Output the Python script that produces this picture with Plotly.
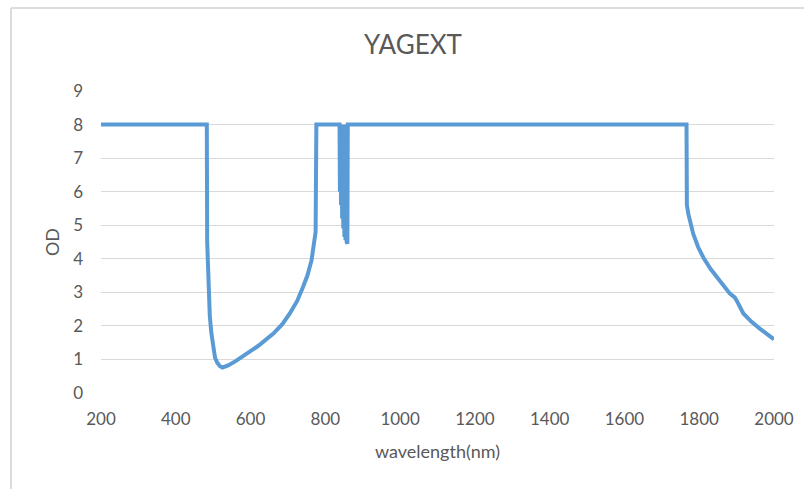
import plotly.graph_objects as go

wavelength = [200, 483, 484, 487, 491, 495, 500, 505, 511, 518, 525, 540, 560, 590, 620, 661,
              685, 705, 725, 740, 752, 763, 770, 774, 776,
              838, 839, 840, 842, 843, 845, 846, 848, 849, 851, 852, 854, 855, 857, 858, 859, 860,
              1766, 1767, 1771, 1784, 1797, 1811, 1830, 1847, 1865, 1882, 1895, 1900, 1918,
              1940, 1962, 1980, 2000]
od = [8, 8, 4.5, 3.4, 2.3, 1.8, 1.35, 1.05, 0.9, 0.8, 0.76, 0.82, 0.95, 1.18, 1.4, 1.77,
      2.05, 2.37, 2.75, 3.15, 3.5, 3.95, 4.4, 4.8, 8,
      8, 6.0, 8, 5.6, 8, 5.2, 8, 4.9, 8, 4.65, 8, 4.55, 8, 4.5, 8, 4.45, 8,
      8, 5.6, 5.33, 4.74, 4.35, 4.04, 3.7, 3.45, 3.2, 2.96, 2.85, 2.76, 2.37,
      2.12, 1.92, 1.76, 1.6]

x_ticks = [200, 400, 600, 800, 1000, 1200, 1400, 1600, 1800, 2000]
y_ticks = [0, 1, 2, 3, 4, 5, 6, 7, 8, 9]

FONT = "Lato"
GRAY = "#595959"

fig = go.Figure()
fig.add_trace(go.Scatter(x=wavelength, y=od, mode="lines",
                         line=dict(color="#5B9BD5", width=4), showlegend=False))

fig.update_layout(
    width=804, height=489,
    margin=dict(l=101, r=30, t=91, b=96, autoexpand=False),
    paper_bgcolor="white", plot_bgcolor="white",
    font=dict(family=FONT, color=GRAY, size=17),
    title=dict(text="YAGEXT", x=413 / 804, xref="container", xanchor="center",
               y=1 - 45 / 489, yref="container", yanchor="middle",
               font=dict(family=FONT, size=26, color=GRAY)),
    xaxis=dict(range=[200, 2000], tickvals=x_ticks, showgrid=False, zeroline=False,
               showline=False, ticks="", tickfont=dict(size=17, color=GRAY),
               ticklabelstandoff=14, automargin=False,
               title=dict(text="wavelength(nm)", font=dict(size=18, color=GRAY), standoff=17)),
    yaxis=dict(range=[0, 9], tickvals=y_ticks, showgrid=True, gridcolor="#D9D9D9", gridwidth=1,
               zeroline=False, showline=False, ticks="", tickfont=dict(size=17, color=GRAY),
               ticklabelstandoff=17, automargin=False,
               title=dict(text="OD", font=dict(size=18, color=GRAY), standoff=8)),
)

# chart frame (left and top edges visible)
fig.add_shape(type="line", xref="paper", yref="paper",
              x0=(11 - 101) / 673, x1=(11 - 101) / 673, y0=(393 - 8) / 302, y1=(393 - 489) / 302,
              line=dict(color="#D0D0D0", width=1.5))
fig.add_shape(type="line", xref="paper", yref="paper",
              x0=(11 - 101) / 673, x1=(804 - 101) / 673, y0=(393 - 8) / 302, y1=(393 - 8) / 302,
              line=dict(color="#D0D0D0", width=1.5))

fig.write_html("out.html", config={"displayModeBar": False},
               post_script="document.body.style.margin='0';")
